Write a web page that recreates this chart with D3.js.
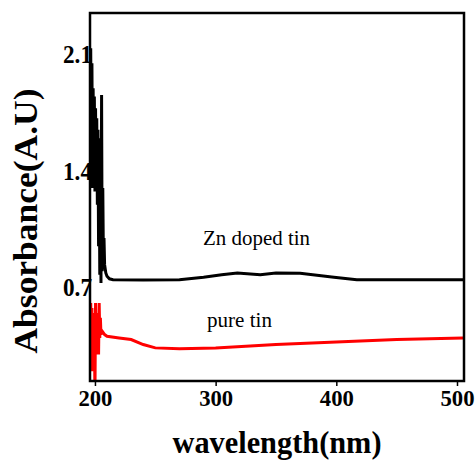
<!DOCTYPE html>
<meta charset="utf-8">
<script src="https://d3js.org/d3.v7.min.js"></script>
<style>
  body { margin: 0; background: #fff; }
  text { font-family: "Liberation Serif", "Times New Roman", serif; font-weight: bold; }
</style>
<div id="chart"></div>
<script>
// series: [wavelength nm, absorbance]
var znDoped = [
  [196.5, 2.14], [197, 1.40], [197.5, 2.05], [198, 1.30], [198.5, 1.90], [199, 1.35],
  [199.5, 1.85], [200, 1.28], [200.5, 1.78], [201, 1.32], [201.5, 1.72], [202, 1.20],
  [202.5, 1.65], [203, 0.95], [203.5, 1.60], [204, 0.78], [204.5, 1.50], [205, 0.73],
  [205.5, 1.86], [206, 0.80], [206.5, 1.30], [207, 0.88], [207.5, 1.00], [208, 0.84],
  [209, 0.79], [210, 0.77], [212, 0.755], [215, 0.75], [240, 0.748], [270, 0.75],
  [290, 0.765], [305, 0.78], [318, 0.79], [337, 0.78], [350, 0.79], [370, 0.788],
  [398, 0.765], [417, 0.75], [505, 0.75]
];
var pureTin = [
  [196.5, 0.61], [197, 0.30], [197.5, 0.58], [198, 0.20], [198.5, 0.55], [199, 0.35],
  [199.5, 0.50], [200, 0.05], [200.5, 0.61], [201, 0.30], [201.5, 0.55], [202, 0.38],
  [202.5, 0.50], [203, 0.30], [203.5, 0.61], [204, 0.40], [204.5, 0.52], [205, 0.42],
  [206, 0.44], [207, 0.43], [208, 0.42], [210, 0.41], [220, 0.40], [230, 0.39],
  [240, 0.36], [250, 0.34], [270, 0.335], [300, 0.34], [350, 0.36], [400, 0.375],
  [450, 0.39], [505, 0.40]
];
var xTicks = [200, 300, 400, 500];
var yTicks = [0.7, 1.4, 2.1];

var W = 476, H = 461;
var plotL = 90, plotR = 464, plotT = 13, plotB = 381;

var svg = d3.select("#chart").append("svg")
  .attr("width", W).attr("height", H);

var x = d3.scaleLinear().domain([195.9, 505.8]).range([plotL, plotR]);
var y = d3.scaleLinear().domain([0.141, 2.352]).range([plotB, plotT]);

svg.append("clipPath").attr("id", "clip")
  .append("rect")
    .attr("x", plotL).attr("y", plotT)
    .attr("width", plotR - plotL).attr("height", plotB - plotT);

var line = d3.line()
  .x(function(d) { return x(d[0]); })
  .y(function(d) { return y(d[1]); });

svg.append("path")
  .datum(pureTin)
  .attr("clip-path", "url(#clip)")
  .attr("fill", "none")
  .attr("stroke", "#ff0000")
  .attr("stroke-width", 3)
  .attr("d", line);

svg.append("path")
  .datum(znDoped)
  .attr("clip-path", "url(#clip)")
  .attr("fill", "none")
  .attr("stroke", "#000")
  .attr("stroke-width", 3)
  .attr("d", line);

// frame
svg.append("rect")
  .attr("x", plotL).attr("y", plotT)
  .attr("width", plotR - plotL).attr("height", plotB - plotT)
  .attr("fill", "none")
  .attr("stroke", "#000")
  .attr("stroke-width", 2.5);

// x axis
var xAxis = svg.append("g")
  .attr("transform", "translate(0," + plotB + ")")
  .call(d3.axisBottom(x).tickValues(xTicks).tickSize(5).tickPadding(3).tickFormat(d3.format("d")));
xAxis.select(".domain").remove();
xAxis.selectAll("line").attr("stroke-width", 1.5);
xAxis.selectAll("text")
  .attr("fill", "#000")
  .style("font-size", "24px")
  .attr("textLength", 34)
  .attr("lengthAdjust", "spacingAndGlyphs");

// y axis: labels only, they run into the frame
var yAxis = svg.append("g")
  .attr("transform", "translate(" + (plotL + 2) + ",0)")
  .call(d3.axisLeft(y).tickValues(yTicks).tickSize(0).tickPadding(0).tickFormat(d3.format(".1f")));
yAxis.select(".domain").remove();
yAxis.selectAll("text")
  .attr("fill", "#000")
  .style("font-size", "25px")
  .attr("textLength", 29)
  .attr("lengthAdjust", "spacingAndGlyphs");

// axis titles
svg.append("text")
  .attr("x", (plotL + plotR) / 2)
  .attr("y", 453)
  .attr("text-anchor", "middle")
  .style("font-size", "31px")
  .attr("textLength", 209)
  .attr("lengthAdjust", "spacingAndGlyphs")
  .text("wavelength(nm)");

svg.append("text")
  .attr("transform", "translate(37," + 221 + ") rotate(-90)")
  .attr("text-anchor", "middle")
  .style("font-size", "34px")
  .attr("textLength", 265)
  .attr("lengthAdjust", "spacingAndGlyphs")
  .text("Absorbance(A.U)");

// series labels
svg.append("text")
  .attr("x", 203).attr("y", 245)
  .style("font-size", "22px")
  .style("font-weight", "normal")
  .attr("textLength", 107)
  .attr("lengthAdjust", "spacingAndGlyphs")
  .text("Zn doped tin");

svg.append("text")
  .attr("x", 207).attr("y", 327)
  .style("font-size", "22px")
  .style("font-weight", "normal")
  .attr("textLength", 65)
  .attr("lengthAdjust", "spacingAndGlyphs")
  .text("pure tin");
</script>
